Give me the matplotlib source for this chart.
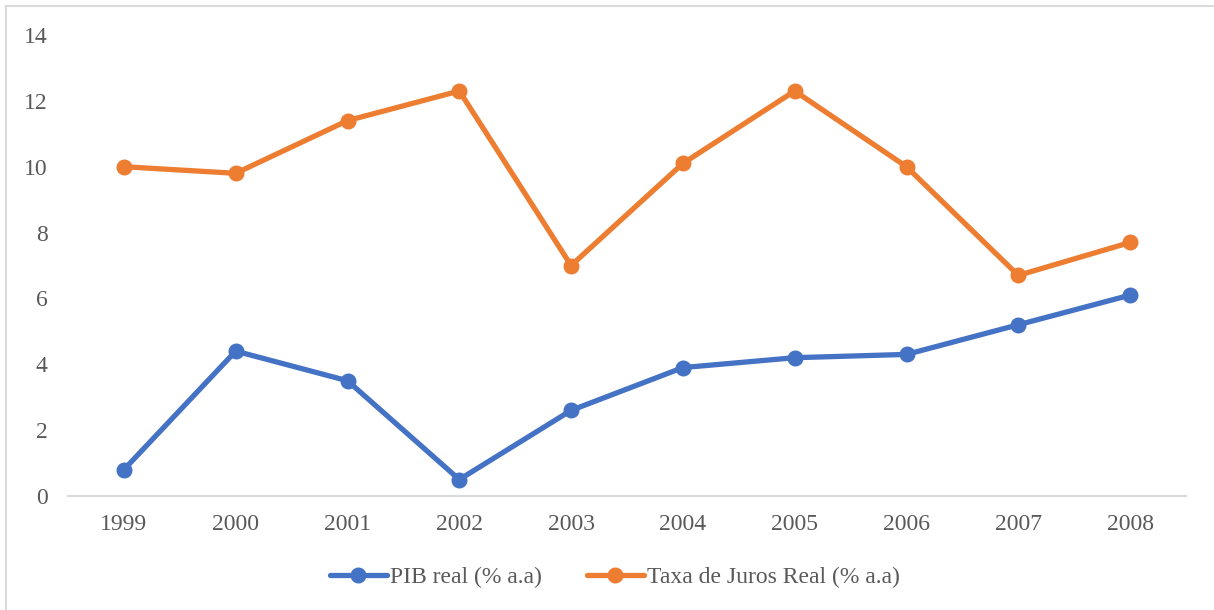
import matplotlib.pyplot as plt
from matplotlib.lines import Line2D

# data
anos = ["1999", "2000", "2001", "2002", "2003", "2004", "2005", "2006", "2007", "2008"]
pib_real = [0.8, 4.4, 3.5, 0.5, 2.6, 3.9, 4.2, 4.3, 5.2, 6.1]
juros_real = [10.0, 9.8, 11.4, 12.3, 7.0, 10.1, 12.3, 10.0, 6.7, 7.7]

plt.rcParams["font.family"] = ["Liberation Serif", "DejaVu Serif"]
txt = "#595959"

fig = plt.figure(figsize=(12.14, 6.10), dpi=100)
ax = fig.add_axes([68 / 1214, 1 - 496 / 610, (1186 - 68) / 1214, (496 - 35) / 610])

x = range(len(anos))
ax.plot(x, pib_real, color="#4472C4", lw=3.8, marker="o", ms=10.5,
        solid_capstyle="round", label="PIB real (% a.a)")
ax.plot(x, juros_real, color="#ED7D31", lw=3.8, marker="o", ms=10.5,
        solid_capstyle="round", label="Taxa de Juros Real (% a.a)")

ax.set_xlim(-0.5, len(anos) - 0.5)
ax.set_ylim(0, 14)
ax.set_yticks(range(0, 15, 2))
ax.set_xticks(list(x))
ax.set_xticklabels(anos)
ax.tick_params(axis="both", length=0, labelsize=17, labelcolor=txt)
ax.tick_params(axis="x", pad=13)
ax.tick_params(axis="y", pad=14.5)

for s in ["top", "right", "left"]:
    ax.spines[s].set_visible(False)
ax.spines["bottom"].set_color("#d9d9d9")
ax.spines["bottom"].set_linewidth(1.5)

leg = fig.legend(loc="center", bbox_to_anchor=(615 / 1214, 1 - 577 / 610),
                 ncol=2, frameon=False, fontsize=17, handlelength=2.4,
                 handletextpad=0.15, columnspacing=1.9)
for t in leg.get_texts():
    t.set_color(txt)

# chart border
fig.add_artist(Line2D([6 / 1214, 6 / 1214], [0, 1 - 6 / 610],
                      transform=fig.transFigure, color="#d9d9d9", lw=1.5))
fig.add_artist(Line2D([6 / 1214, 1], [1 - 6 / 610, 1 - 6 / 610],
                      transform=fig.transFigure, color="#d9d9d9", lw=1.5))

plt.savefig("out.png", dpi=100)
